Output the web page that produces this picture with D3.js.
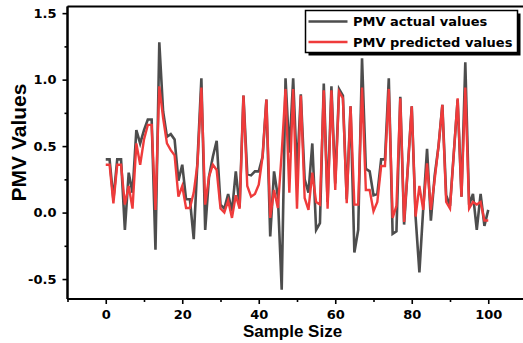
<!DOCTYPE html>
<html>
<head>
<meta charset="utf-8">
<script src="https://cdn.jsdelivr.net/npm/d3@7"></script>
<style>
  body { margin: 0; background: #fff; }
  svg { display: block; }
  .tick text { font-family: "DejaVu Sans", sans-serif; font-weight: bold; font-size: 13px; fill: #000; }
</style>
</head>
<body>
<svg width="523" height="343"></svg>
<script>
// sample index 0..100
const samples = d3.range(0, 101);

const actualValues = [
  0.40, 0.40, 0.10, 0.40, 0.40, -0.13, 0.30, 0.15, 0.62, 0.52,
  0.62, 0.70, 0.70, -0.28, 1.28, 0.76, 0.57, 0.59, 0.55, 0.24,
  0.36, 0.10, 0.10, -0.20, 0.40, 1.01, -0.13, 0.27, 0.42, 0.54,
  0.06, 0.03, 0.14, 0.01, 0.31, 0.04, 0.88, 0.29, 0.28, 0.31,
  0.31, 0.42, 0.85, -0.18, 0.31, 0.12, -0.58, 1.01, 0.45, 1.01,
  0.30, 0.89, 0.25, 0.15, 0.52, -0.13, -0.08, 0.97, 0.08, 0.95,
  0.22, 0.93, 0.88, 0.10, 0.80, -0.30, -0.13, 1.16, 0.33, 0.31,
  0.13, 0.14, 0.40, 0.40, 1.01, -0.16, -0.14, 0.87, -0.09, 0.35,
  0.80, -0.03, -0.45, 0.03, 0.48, -0.06, 0.28, 0.50, 0.81, 0.13,
  0.05, 0.45, 0.85, 0.12, 1.13, 0.06, 0.14, -0.13, 0.14, -0.10,
  0.02
];

const predictedValues = [
  0.36, 0.36, 0.07, 0.36, 0.36, 0.06, 0.20, 0.03, 0.52, 0.36,
  0.55, 0.66, 0.66, 0.02, 0.95, 0.71, 0.52, 0.47, 0.43, 0.12,
  0.20, 0.035, 0.035, 0.15, 0.37, 0.94, 0.06, 0.27, 0.36, 0.32,
  0.03, 0.00, 0.09, -0.04, 0.13, 0.03, 0.88, 0.20, 0.12, 0.14,
  0.21, 0.42, 0.85, -0.04, 0.17, 0.035, 0.45, 0.93, 0.15, 0.93,
  0.03, 0.88, 0.11, 0.02, 0.30, 0.08, 0.06, 0.92, 0.03, 0.92,
  0.17, 0.91, 0.86, 0.07, 0.80, 0.06, 0.06, 0.94, 0.17, 0.17,
  0.01, 0.08, 0.35, 0.35, 0.93, -0.04, 0.05, 0.86, -0.07, 0.35,
  0.80, -0.03, 0.20, 0.02, 0.37, 0.02, 0.25, 0.50, 0.81, 0.08,
  0.03, 0.45, 0.86, 0.12, 0.94, 0.03, 0.08, 0.06, 0.08, -0.06,
  -0.06
];

const xTicks = [0, 20, 40, 60, 80, 100];
const xMinorTicks = [-10, 10, 30, 50, 70, 90, 110];
const yTicks = [-0.5, 0.0, 0.5, 1.0, 1.5];
const yMinorTicks = [-0.25, 0.25, 0.75, 1.25];

const seriesNames = ["PMV actual values", "PMV predicted values"];
const seriesColors = ["#4d4d4d", "#ef3b3b"];

const svg = d3.select("svg");
const mLeft = 67.5, mTop = 6.5, plotRight = 526.5, mBottom = 299;

const x = d3.scaleLinear().domain([-10, 110]).range([mLeft, plotRight]);
const y = d3.scaleLinear().domain([-0.65, 1.55]).range([mBottom, mTop]);

// frame (top line; right side falls outside the image)
svg.append("line")
  .attr("x1", mLeft).attr("x2", plotRight)
  .attr("y1", mTop).attr("y2", mTop)
  .attr("stroke", "#000").attr("stroke-width", 2);

// series
const line = d3.line().x((d, i) => x(samples[i])).y(d => y(d));
[actualValues, predictedValues].forEach((vals, k) => {
  svg.append("path")
    .datum(vals)
    .attr("fill", "none")
    .attr("stroke", seriesColors[k])
    .attr("stroke-width", k === 0 ? 2.6 : 2.4)
    .attr("stroke-linejoin", "miter")
    .attr("d", line);
});

// axes
const gx = svg.append("g").attr("transform", `translate(0,${mBottom})`);
gx.call(d3.axisBottom(x).tickValues(xMinorTicks).tickSize(3).tickFormat(""));
gx.call(g => g.append("g").call(d3.axisBottom(x).tickValues(xTicks).tickSize(5).tickPadding(6).tickFormat(d3.format("d"))));

const gy = svg.append("g").attr("transform", `translate(${mLeft},0)`);
gy.call(d3.axisLeft(y).tickValues(yMinorTicks).tickSize(3).tickFormat(""));
gy.call(g => g.append("g").call(d3.axisLeft(y).tickValues(yTicks).tickSize(5).tickPadding(6).tickFormat(d3.format(".1f"))));

svg.selectAll(".domain").attr("stroke", "#000").attr("stroke-width", 2);
svg.selectAll(".tick line").attr("stroke", "#000").attr("stroke-width", 1.6);
svg.selectAll(".tick text").text(function () { return this.textContent.replace("−", "-"); });
gy.selectAll(".domain").attr("d", `M0,${y(-0.65)}V${y(1.55)}`);
gx.selectAll(".domain").attr("d", `M${x(-10)},0H${plotRight}`);

// axis titles
svg.append("text")
  .attr("x", 292.5).attr("y", 337)
  .attr("text-anchor", "middle")
  .style("font-family", "'Liberation Sans', Arial, sans-serif")
  .style("font-weight", "bold").style("font-size", "17px")
  .text("Sample Size");

svg.append("text")
  .attr("transform", "translate(25.5,142.5) rotate(-90)")
  .attr("text-anchor", "middle")
  .style("font-family", "'Liberation Sans', Arial, sans-serif")
  .style("font-weight", "bold").style("font-size", "21px")
  .text("PMV Values");

// legend
const lg = svg.append("g").attr("transform", "translate(305.5,10.5)");
lg.append("rect").attr("x", 3).attr("y", 3).attr("width", 212).attr("height", 42).attr("fill", "#000");
lg.append("rect").attr("width", 212).attr("height", 42).attr("fill", "#fff").attr("stroke", "#000").attr("stroke-width", 1.5);
seriesNames.forEach((name, k) => {
  const cy = 11 + k * 20.5;
  lg.append("line").attr("x1", 3).attr("x2", 42).attr("y1", cy).attr("y2", cy)
    .attr("stroke", seriesColors[k]).attr("stroke-width", 2.4);
  lg.append("text").attr("x", 47.5).attr("y", cy + 4.6)
    .style("font-family", "'DejaVu Sans', sans-serif")
    .style("font-weight", "bold").style("font-size", "13px")
    .text(name);
});
</script>
</body>
</html>
